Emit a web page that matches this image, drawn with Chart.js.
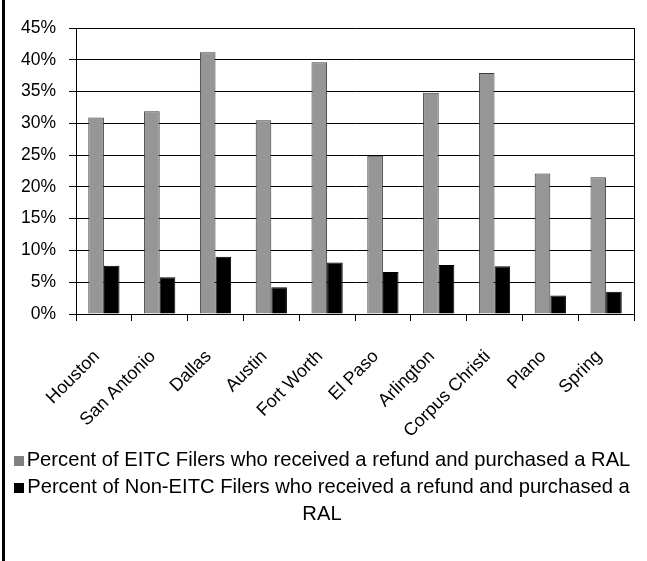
<!DOCTYPE html>
<html>
<head>
<meta charset="utf-8">
<script src="https://cdn.jsdelivr.net/npm/chart.js@4.4.1/dist/chart.umd.min.js"></script>
<style>
  html, body { margin: 0; padding: 0; background: #fff; }
  #wrap { position: relative; width: 647px; height: 561px; overflow: hidden; background: #fff; }
  #frame { position: absolute; left: 2px; top: 0; width: 3px; height: 561px; background: #000; }
  #chart { position: absolute; left: 0; top: 0; }
  #legend {
    position: absolute; left: 1px; width: 642px; top: 446px;
    font: 20.2px "Liberation Sans", Arial, sans-serif; color: #000;
    text-align: center; line-height: 27px;
  }
  #legend .sw { display: inline-block; width: 10px; height: 10px; margin-right: 3px; }
</style>
</head>
<body>
<div id="wrap">
  <canvas id="chart" width="647" height="561"></canvas>
  <div id="frame"></div>
  <div id="legend"></div>
</div>
<script>
// Texas cities, share of refund recipients who bought a refund anticipation loan
const cities = ['Houston', 'San Antonio', 'Dallas', 'Austin', 'Fort Worth',
                'El Paso', 'Arlington', 'Corpus Christi', 'Plano', 'Spring'];
const eitcPct    = [30.9, 31.9, 41.2, 30.5, 39.6, 24.9, 34.8, 37.9, 22.1, 21.5];
const nonEitcPct = [7.6, 5.8, 9.0, 4.2, 8.1, 6.6, 7.7, 7.5, 2.9, 3.5];
const seriesNames = [
  'Percent of EITC Filers who received a refund and purchased a RAL',
  'Percent of Non-EITC Filers who received a refund and purchased a RAL'
];
const seriesColors = ['#969696', '#000000'];
const seriesBorders = ['#3a3a3a', '#000000'];
const legendSwatches = ['#808080', '#000000'];
const yMax = 45;
const yStep = 5;

const FONT = '"Liberation Sans", Arial, sans-serif';

const chart = new Chart(document.getElementById('chart'), {
  type: 'bar',
  data: {
    labels: cities,
    datasets: [eitcPct, nonEitcPct].map((vals, i) => ({
      label: seriesNames[i],
      data: vals,
      backgroundColor: seriesColors[i],
      borderColor: seriesBorders[i],
      borderWidth: 1,
      categoryPercentage: 0.56,
      barPercentage: 1.0
    }))
  },
  options: {
    responsive: false,
    animation: false,
    devicePixelRatio: 1,
    layout: { padding: { left: 0, top: 28, right: 12, bottom: 117 } },
    plugins: { legend: { display: false }, tooltip: { enabled: false } },
    scales: {
      x: {
        grid: { offset: true, drawOnChartArea: false, drawTicks: true, tickLength: 7, color: '#000' },
        border: { color: '#000', width: 1 },
        ticks: { color: '#000', font: { family: FONT, size: 18 }, minRotation: 45, maxRotation: 45,
                 padding: 25, labelOffset: -7 },
        afterFit: s => { s.height = 130; }
      },
      y: {
        min: 0, max: yMax,
        grid: { color: '#000', lineWidth: 1, tickLength: 7 },
        border: { color: '#000', width: 1 },
        ticks: { stepSize: yStep, color: '#000', font: { family: FONT, size: 17.5 }, padding: 13,
                 callback: v => v + '%' },
        afterFit: s => { s.width = 76; }
      },
      y2: {
        position: 'right', min: 0, max: yMax,
        grid: { drawOnChartArea: false, drawTicks: false },
        border: { color: '#000', width: 1 },
        ticks: { display: false },
        afterFit: s => { s.width = 0; }
      }
    }
  }
});

// Legend below the plot, built from the series definitions
const legend = document.getElementById('legend');
seriesNames.forEach((name, i) => {
  const row = document.createElement('div');
  const sw = document.createElement('span');
  sw.className = 'sw';
  sw.style.background = legendSwatches[i];
  row.appendChild(sw);
  row.appendChild(document.createTextNode(name));
  legend.appendChild(row);
});
</script>
</body>
</html>
